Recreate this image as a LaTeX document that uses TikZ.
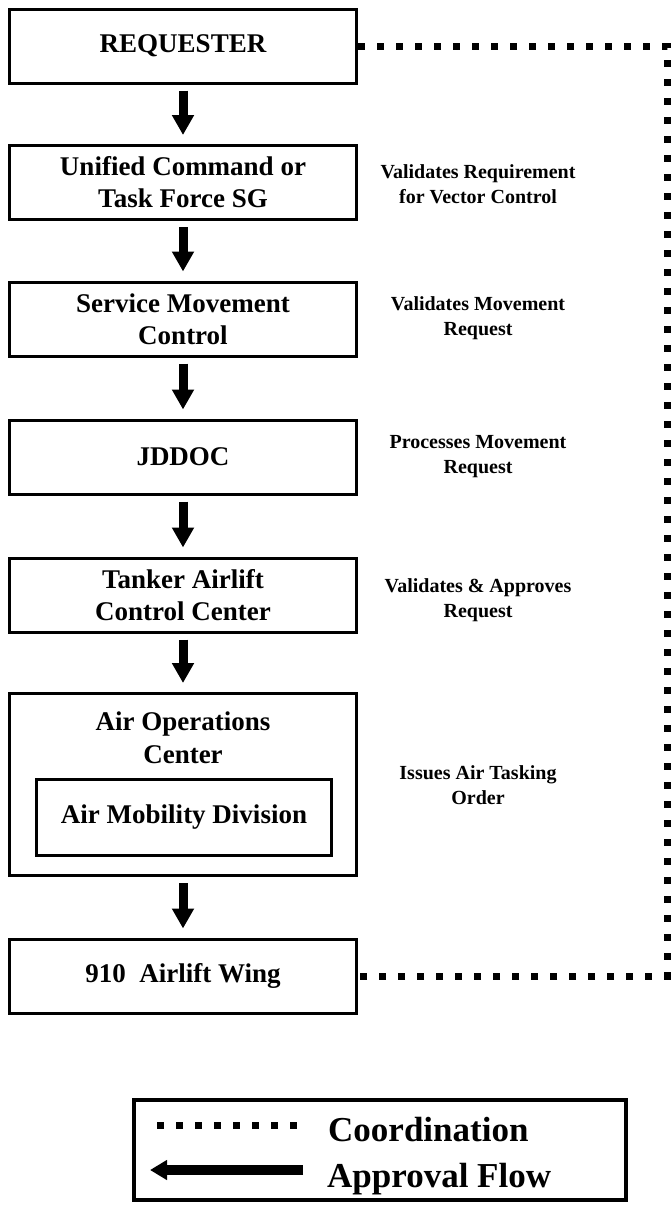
\documentclass[tikz,border=0pt]{standalone}
\usepackage{fontspec}
\setmainfont{Liberation Serif}
\usetikzlibrary{arrows.meta, positioning}

\tikzset{
  unit/.style={draw, line width=3pt, minimum width=347pt, minimum height=74pt,
    inner sep=0pt, align=center, font=\fontsize{27}{32}\selectfont\bfseries},
  note/.style={align=center, inner sep=0pt, font=\fontsize{20}{25}\selectfont\bfseries},
  flow/.style={-{Triangle[width=21pt,length=20pt]}, line width=9pt,
    shorten <=6pt, shorten >=9pt},
  coordline/.style={line width=7pt, dash pattern=on 7pt off 12pt},
  legendtext/.style={anchor=base west, inner sep=0pt, font=\fontsize{35}{40}\selectfont\bfseries},
}

\begin{document}
\begin{tikzpicture}[x=1pt, y=-1pt]
  \useasboundingbox (0,0) rectangle (671,1205);

  % chain of units
  \node[unit] (req) at (183,46) {REQUESTER};
  \node[unit] (uc) at (183,182.5) {Unified Command or\\Task Force SG};
  \node[unit] (smc) at (183,319) {Service Movement\\Control};
  \node[unit] (jddoc) at (183,457) {JDDOC};
  \node[unit] (tacc) at (183,595) {Tanker Airlift\\Control Center};
  \node[unit, minimum height=182pt] (aoc) at (183,784.5) {};
  \node[align=center, inner sep=0pt, font=\fontsize{27}{33}\selectfont\bfseries]
    (aoctitle) at (183,738) {Air Operations\\Center};
  \node[unit, minimum width=295pt, minimum height=76pt] (amd) at (184,817) {Air Mobility Division};
  \node[unit] (wing) at (183,976) {910~~Airlift Wing};

  \draw[flow] (req.south) -- (uc.north);
  \draw[flow] (uc.south) -- (smc.north);
  \draw[flow] (smc.south) -- (jddoc.north);
  \draw[flow] (jddoc.south) -- (tacc.north);
  \draw[flow] (tacc.south) -- (aoc.north);
  \draw[flow] (aoc.south) -- (wing.north);

  % what each unit does
  \node[note] (n1) at (478,184) {Validates Requirement\\for Vector Control};
  \node[note] (n2) at (478,318) {Validates Movement\\Request};
  \node[note] (n3) at (478,457) {Processes Movement\\Request};
  \node[note] (n4) at (478,600) {Validates \& Approves\\Request};
  \node[note] (n5) at (478,785) {Issues Air Tasking\\Order};

  % coordination loop
  \coordinate (rail) at (667,0);
  \draw[coordline] (req.east) -- (req.east -| rail) -- (wing.east -| rail) -- (wing.east);

  % legend
  \node[draw, line width=3.5pt, minimum width=492pt, minimum height=100pt] (legend) at (380,1150) {};
  \coordinate (c1) at (157,1125);
  \coordinate (c2) at (304,1125);
  \draw[coordline] (c1) -- (c2);
  \coordinate (a1) at (303,1170);
  \coordinate (a2) at (150,1170);
  \draw[-{Triangle[width=19pt,length=17pt]}, line width=10pt] (a1) -- (a2);
  \node[legendtext] (lcoord) at (328,1141) {Coordination};
  \node[legendtext] (lflow) at (327,1187) {Approval Flow};
\end{tikzpicture}
\end{document}
